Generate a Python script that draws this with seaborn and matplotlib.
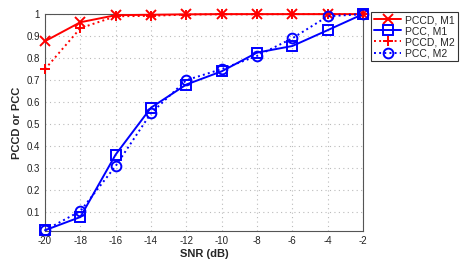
import matplotlib
matplotlib.use("Agg")
import matplotlib.pyplot as plt
import seaborn as sns

snr = [-20, -18, -16, -14, -12, -10, -8, -6, -4, -2]
pccd_m1 = [0.877, 0.963, 0.995, 0.997, 0.999, 1.0, 1.0, 1.0, 1.0, 1.0]
pcc_m1 = [0.018, 0.078, 0.362, 0.575, 0.68, 0.74, 0.825, 0.855, 0.927, 1.0]
pccd_m2 = [0.75, 0.936, 0.99, 0.992, 0.998, 0.999, 0.999, 1.0, 1.0, 1.0]
pcc_m2 = [0.018, 0.105, 0.31, 0.55, 0.70, 0.75, 0.81, 0.89, 0.99, 1.0]

sns.set_style("white")
plt.rcParams['font.family'] = ['Liberation Sans', 'DejaVu Sans']
plt.rcParams['axes.unicode_minus'] = False

fig = plt.figure(figsize=(4.69, 2.66), dpi=100)
ax = fig.add_axes([0.096, 0.132, 0.678, 0.815])
ax.set_axisbelow(True)

series = [
    ("PCCD, M1", pccd_m1, "red", "-", "x"),
    ("PCC, M1", pcc_m1, "blue", "-", "s"),
    ("PCCD, M2", pccd_m2, "red", ":", "+"),
    ("PCC, M2", pcc_m2, "blue", ":", "o"),
]
for name, vals, col, ls, mk in series:
    sns.lineplot(x=snr, y=vals, ax=ax, color=col, linestyle=ls, marker=mk,
                 markersize=7, markerfacecolor="none", markeredgecolor=col,
                 markeredgewidth=1.4, linewidth=1.4, label=name, clip_on=False,
                 zorder=3)

ax.set_xlim(-20, -2)
ax.set_ylim(0.015, 1)
ax.set_xticks(snr)
ax.set_yticks([0.1, 0.2, 0.3, 0.4, 0.5, 0.6, 0.7, 0.8, 0.9, 1])
ax.set_yticklabels(["0.1", "0.2", "0.3", "0.4", "0.5", "0.6", "0.7", "0.8", "0.9", "1"])
ax.tick_params(direction="in", length=3, labelsize=7, colors="#222222")
ax.grid(True, linestyle=(0, (1, 3)), color="#bbbbbb", linewidth=0.8)
for s in ax.spines.values():
    s.set_color("#555555")
    s.set_linewidth(0.8)
ax.set_xlabel("SNR (dB)", fontsize=8, fontweight="bold", labelpad=2)
ax.set_ylabel("PCCD or PCC", fontsize=8, fontweight="bold", labelpad=3)

leg = ax.legend(loc="upper left", bbox_to_anchor=(1.025, 1.01), fontsize=7.5,
                frameon=True, fancybox=False, edgecolor="black",
                borderpad=0.3, labelspacing=0.1, handlelength=2.6,
                handletextpad=0.4, borderaxespad=0)
leg.get_frame().set_linewidth(0.8)

fig.savefig("out.png", dpi=100)
